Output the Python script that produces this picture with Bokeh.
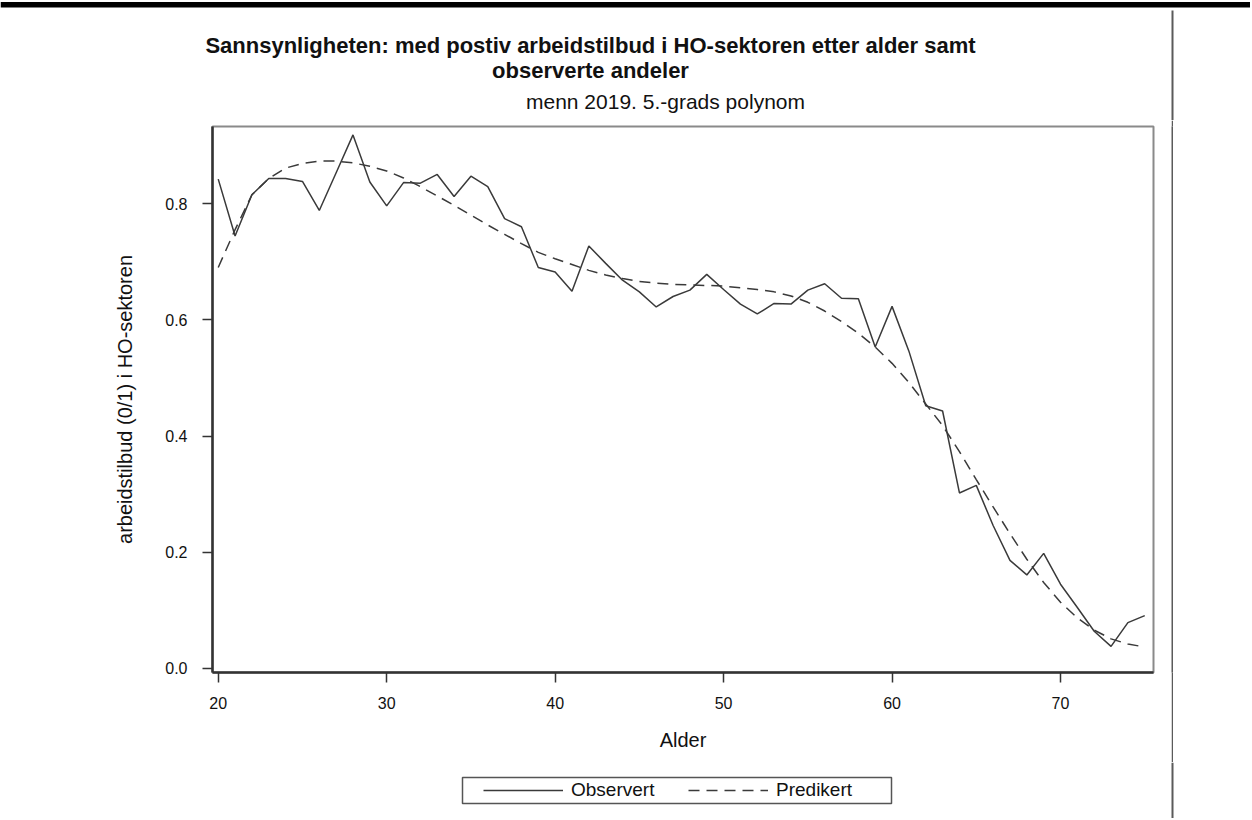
from bokeh.plotting import figure
from bokeh.layouts import column, row
from bokeh.models import Range1d, FixedTicker, Legend, LegendItem
from bokeh.core.properties import value
from bokeh.embed import file_html
from bokeh.resources import INLINE

# ---------------- data ----------------
ages = list(range(20, 76))
observert = [0.842, 0.744, 0.815, 0.843, 0.843, 0.838, 0.788, 0.853, 0.918, 0.837,
             0.796, 0.836, 0.835, 0.850, 0.812, 0.847, 0.829, 0.774, 0.760, 0.690,
             0.682, 0.649, 0.727, 0.697, 0.668, 0.648, 0.622, 0.640, 0.651, 0.678,
             0.652, 0.627, 0.610, 0.628, 0.627, 0.651, 0.662, 0.637, 0.636, 0.553,
             0.623, 0.546, 0.452, 0.443, 0.302, 0.315, 0.246, 0.186, 0.161, 0.198,
             0.145, 0.105, 0.064, 0.038, 0.079, 0.091]
predikert = [0.690, 0.755, 0.815, 0.843, 0.861, 0.869, 0.873, 0.873, 0.870, 0.864,
             0.856, 0.844, 0.829, 0.813, 0.797, 0.780, 0.763, 0.747, 0.731, 0.716,
             0.705, 0.695, 0.685, 0.677, 0.671, 0.666, 0.663, 0.661, 0.660, 0.659,
             0.658, 0.655, 0.652, 0.648, 0.641, 0.630, 0.615, 0.597, 0.577, 0.553,
             0.525, 0.492, 0.455, 0.418, 0.373, 0.325, 0.278, 0.232, 0.188, 0.148,
             0.114, 0.087, 0.066, 0.051, 0.042, 0.037]
x_ticks = [20, 30, 40, 50, 60, 70]
y_ticks = [0.0, 0.2, 0.4, 0.6, 0.8]
y_tick_labels = ["0.0", "0.2", "0.4", "0.6", "0.8"]
title_line1 = "Sannsynligheten: med postiv arbeidstilbud i HO-sektoren etter alder samt"
title_line2 = "observerte andeler"
subtitle = "menn 2019. 5.-grads polynom"
x_label = "Alder"
y_label = "arbeidstilbud (0/1) i HO-sektoren"
legend_labels = ["Observert", "Predikert"]

FONT = "Liberation Sans"
TOTAL_W = 1250
HEAD_H, MAIN_H, FOOT_H = 120, 642, 56
RULE_X = 1172          # x of the vertical page rule
MAIN_W = RULE_X - 1    # main chart ends where the rule begins
RULE_W = 2
LINE_COLOR = "#3a3a3a"
DASH = "11 7"
RULE_COLOR = "#5a5a5a"


def canvas_fig(w, h, fill="white"):
    f = figure(width=w, height=h, x_range=Range1d(0, w), y_range=Range1d(h, 0),
               output_backend="svg", toolbar_location=None,
               x_axis_location=None, y_axis_location=None, min_border=0)
    f.outline_line_color = None
    f.background_fill_color = fill
    f.border_fill_color = fill
    f.xgrid.visible = False
    f.ygrid.visible = False
    f.grid.visible = False
    return f


# ---------------- header: page bar, titles ----------------
head = canvas_fig(TOTAL_W, HEAD_H)
head.quad(left=[0], right=[TOTAL_W], top=[1.5], bottom=[7], fill_color="black", line_color=None)
head.quad(left=[RULE_X - 1], right=[RULE_X + 1], top=[10], bottom=[HEAD_H],
          fill_color=RULE_COLOR, line_color=None)
head.text(x=[590, 590], y=[45, 70], text=[title_line1, title_line2],
          text_align="center", text_baseline="middle", text_font=value(FONT),
          text_font_size="22px", text_font_style="bold", text_color="#111111")
head.text(x=[665], y=[101], text=[subtitle], text_align="center", text_baseline="middle",
          text_font=value(FONT), text_font_size="21px", text_color="#111111")

# ---------------- main chart ----------------
p = figure(width=MAIN_W, height=MAIN_H, output_backend="svg", toolbar_location=None,
           x_range=Range1d(19.66, 75.52), y_range=Range1d(-0.0069, 0.9325),
           min_border_left=212, min_border_right=MAIN_W - 1153,
           min_border_top=6, min_border_bottom=90)
p.xgrid.visible = False
p.ygrid.visible = False
p.outline_line_color = "#8a8a8a"
p.outline_line_width = 2
p.background_fill_color = "white"
p.border_fill_color = "white"

for ax in (p.xaxis[0], p.yaxis[0]):
    ax.axis_line_color = "#333333"
    ax.axis_line_width = 2.5
    ax.major_tick_line_color = "#333333"
    ax.major_tick_line_width = 1.5
    ax.major_tick_out = 10
    ax.major_tick_in = 0
    ax.minor_tick_line_color = None
    ax.major_label_text_font = FONT
    ax.major_label_text_font_size = "16px"
    ax.major_label_text_color = "#111111"
    ax.axis_label_text_font = FONT
    ax.axis_label_text_font_style = "normal"
    ax.axis_label_text_font_size = "20px"
    ax.axis_label_text_color = "#111111"

p.xaxis.ticker = FixedTicker(ticks=x_ticks)
p.yaxis.ticker = FixedTicker(ticks=y_ticks)
p.yaxis.major_label_overrides = {t: s for t, s in zip(y_ticks, y_tick_labels)}
p.xaxis.axis_label = x_label
p.yaxis.axis_label = y_label
p.xaxis.major_label_standoff = 14
p.yaxis.major_label_standoff = 15
p.xaxis.axis_label_standoff = 17
p.yaxis.axis_label_standoff = 26

p.line(ages, observert, line_color=LINE_COLOR, line_width=1.5)
p.line(ages, predikert, line_color=LINE_COLOR, line_width=1.5, line_dash=DASH)

# ---------------- page rule strip and blank margin ----------------
rule = canvas_fig(RULE_W, MAIN_H, fill=RULE_COLOR)
blank = canvas_fig(TOTAL_W - MAIN_W - RULE_W, MAIN_H)

# ---------------- footer with legend ----------------
foot = canvas_fig(TOTAL_W, FOOT_H)
foot.quad(left=[RULE_X - 1], right=[RULE_X + 1], top=[0], bottom=[FOOT_H],
          fill_color=RULE_COLOR, line_color=None)
foot.quad(left=[462], right=[891], top=[15], bottom=[41], fill_color="white",
          line_color="#555555", line_width=1.5)
# legend proxies (kept outside the visible range; only their legend glyphs show)
k_obs = foot.line(x=[-200, -100], y=[-200, -200], line_color=LINE_COLOR, line_width=1.5)
k_pred = foot.line(x=[-200, -100], y=[-200, -200], line_color=LINE_COLOR, line_width=1.5,
                   line_dash=DASH)
legend = Legend(items=[LegendItem(label=legend_labels[0], renderers=[k_obs]),
                       LegendItem(label=legend_labels[1], renderers=[k_pred])],
                orientation="horizontal", location=(483, 17),
                padding=0, margin=0, spacing=24, glyph_width=80, glyph_height=14,
                label_standoff=8, label_height=14, label_width=93,
                label_text_font=FONT, label_text_font_size="19px", label_text_color="#111111",
                border_line_alpha=0, background_fill_alpha=0)
foot.add_layout(legend, "center")

layout = column(head, row(p, rule, blank), foot)
open("out.html", "w").write(file_html(layout, INLINE))
